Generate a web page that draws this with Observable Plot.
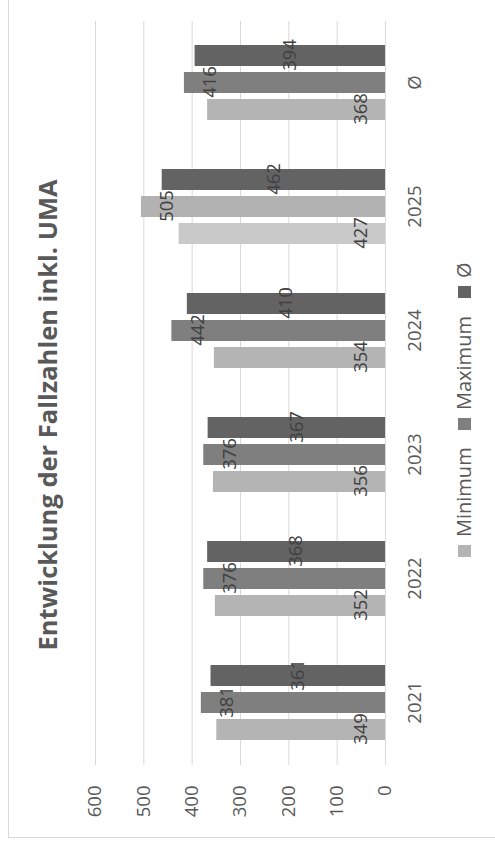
<!DOCTYPE html>
<html>
<head>
<meta charset="utf-8">
<script src="https://cdn.jsdelivr.net/npm/d3@7"></script>
<script src="https://cdn.jsdelivr.net/npm/@observablehq/plot@0.6"></script>
<style>
  html, body { margin: 0; padding: 0; background: #fff; }
  body { width: 495px; height: 848px; overflow: hidden; position: relative; }
  #wrap { position: absolute; left: 0; top: 0; width: 848px; height: 495px;
          transform-origin: 0 0; transform: translate(0px, 848px) rotate(-90deg);
          background: #fff; font-family: "Open Sans", sans-serif; }
  #wrap > * { position: absolute; left: 0; top: 0; }
</style>
</head>
<body>
<div id="wrap"></div>
<script>
// ---- data ----
const categories = ["2021", "2022", "2023", "2024", "2025", "Ø"];
const series = ["Minimum", "Maximum", "Ø"];
const minimum = [349, 352, 356, 354, 427, 368];
const maximum = [381, 376, 376, 442, 505, 416];
const average = [361, 368, 367, 410, 462, 394];
const yTicks = [0, 100, 200, 300, 400, 500, 600];
const title = "Entwicklung der Fallzahlen inkl. UMA";
const highlightYear = "2025";

// ---- styles ----
const seriesColors = ["#b4b4b4", "#7f7f7f", "#636363"];
const highlightColors = ["#c9c9c9", "#b2b2b2"];
const textColor = "#595959";
const labelColor = "#404040";
const gridColor = "#d9d9d9";

const valuesBySeries = {Minimum: minimum, Maximum: maximum, "Ø": average};
const rows = [];
categories.forEach((c, i) => {
  series.forEach(s => rows.push({category: c, series: s, value: valuesBySeries[s][i]}));
});
const fillKey = d => (d.category === highlightYear && d.series !== "Ø") ? d.series + " " + highlightYear : d.series;

const W = 848, H = 495;
const chart = Plot.plot({
  width: W, height: H,
  marginLeft: 82, marginRight: 21, marginTop: 95, marginBottom: 110,
  style: {fontFamily: "Open Sans", fontSize: "18.5px", color: textColor, background: "transparent", overflow: "visible"},
  fx: {domain: categories, padding: 0, axis: "bottom", tickSize: 0, tickPadding: 22, label: null},
  x: {domain: series, paddingInner: 0.236, paddingOuter: 0.876, axis: null},
  y: {domain: [0, 600], ticks: yTicks, tickSize: 0, tickPadding: 21, label: null},
  color: {domain: [...series, "Minimum " + highlightYear, "Maximum " + highlightYear],
          range: [...seriesColors, ...highlightColors], legend: false},
  marks: [
    Plot.ruleY(yTicks, {stroke: gridColor, strokeWidth: 1}),
    Plot.barY(rows, {fx: "category", x: "series", y: "value", fill: fillKey}),
    Plot.text(rows.filter(d => d.series === "Minimum"),
      {fx: "category", x: "series", y: () => 0, dy: -24.5, text: d => String(d.value), fill: labelColor}),
    Plot.text(rows.filter(d => d.series === "Maximum"),
      {fx: "category", x: "series", y: "value", dy: 26, text: d => String(d.value), fill: labelColor}),
    Plot.text(rows.filter(d => d.series === "Ø"),
      {fx: "category", x: "series", y: d => d.value / 2, text: d => String(d.value), fill: labelColor})
  ]
});

// ---- overlay: border, title, legend ----
const NS = "http://www.w3.org/2000/svg";
const overlay = document.createElementNS(NS, "svg");
overlay.setAttribute("width", W);
overlay.setAttribute("height", H);
overlay.style.overflow = "hidden";
const add = (tag, attrs, text) => {
  const el = document.createElementNS(NS, tag);
  for (const k in attrs) el.setAttribute(k, attrs[k]);
  if (text != null) el.textContent = text;
  overlay.appendChild(el);
  return el;
};
add("rect", {x: 10.5, y: 8.5, width: 1000, height: 1000, fill: "none", stroke: gridColor, "stroke-width": 1});
add("text", {x: 433, y: 57, "text-anchor": "middle", "font-family": "Open Sans", "font-weight": "bold",
             "font-size": "25.5px", fill: textColor}, title);
const legendSwatchX = [291, 418, 550];
series.forEach((s, i) => {
  add("rect", {x: legendSwatchX[i], y: 458, width: 12, height: 13, fill: seriesColors[i]});
  add("text", {x: legendSwatchX[i] + 20, y: 471, "font-family": "Open Sans", "font-size": "20px", fill: textColor}, s);
});

const wrap = document.getElementById("wrap");
wrap.appendChild(overlay);
wrap.appendChild(chart);
</script>
</body>
</html>
